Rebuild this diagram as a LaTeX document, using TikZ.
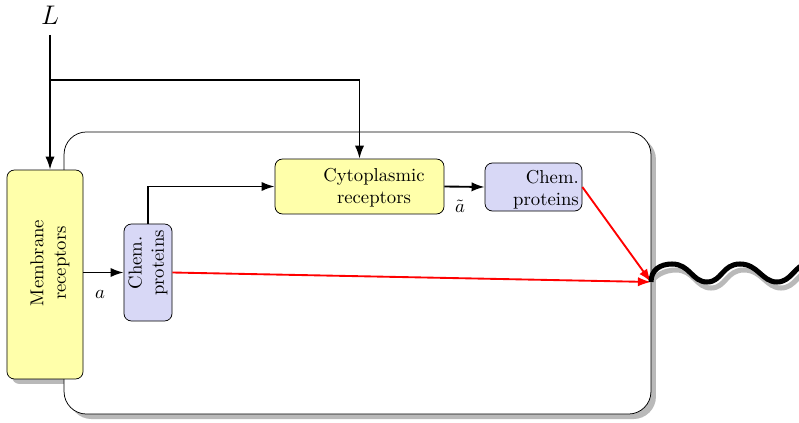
\documentclass[tikz,border=0pt]{standalone}
\usetikzlibrary{arrows.meta}
\definecolor{boxyellow}{RGB}{255,255,170}
\definecolor{boxblue}{RGB}{216,216,246}
\definecolor{shadowgray}{RGB}{185,185,185}
\begin{document}
\begin{tikzpicture}[x=0.535pt,y=-0.535pt,
  conn/.style={line width=1pt,-{Latex[length=7pt,width=5pt]}},
  redconn/.style={line width=1pt,red,-{Latex[length=7pt,width=5pt]}},
  ybox/.style={draw,fill=boxyellow,rounded corners=4pt,inner sep=0pt},
  bbox/.style={draw,fill=boxblue,rounded corners=4pt,inner sep=0pt},
  cellbox/.style={draw,fill=white,rounded corners=12pt,inner sep=0pt},
  shadowbox/.style={fill=shadowgray,rounded corners=4pt,inner sep=0pt},
  wave/.style={line width=2.7pt},
  txt/.style={inner sep=0pt,align=center}]
\useasboundingbox (0,0) rectangle (799,423);
% membrane shadow
\node[shadowbox,minimum width=40.7pt,minimum height=111.8pt] (membshadow) at (50,279.5) {};
% cell shadow and cell
\node[shadowbox,rounded corners=12pt,minimum width=314pt,minimum height=150.9pt] (cellshadow) at (362.5,278) {};
\node[cellbox,minimum width=314pt,minimum height=150.9pt] (cell) at (357.5,273) {};
% boxes
\node[ybox,minimum width=40.7pt,minimum height=111.8pt] (memb) at (45,274.5) {};
\node[txt,rotate=90] (membtext) at (50,263) {Membrane\\receptors};
\node[bbox,minimum width=25.7pt,minimum height=51.9pt] (chema) at (148,272.5) {};
\node[txt,rotate=90] (chematext) at (148,263) {Chem.\\proteins};
\node[ybox,minimum width=90.4pt,minimum height=29.4pt] (cyto) at (359.5,186.5) {};
\node[txt] (cytotext) at (374,188) {Cytoplasmic\\receptors};
\node[bbox,minimum width=51.9pt,minimum height=25.7pt] (chemb) at (533.5,187) {};
\node[txt,align=right] (chembtext) at (546,190) {Chem.\\proteins};
% labels
\node (L) at (50,15) {\Large $L$};
\node (la) at (100,294) {$a$};
\node (lat) at (460,206) {$\tilde a$};
% connectors
\coordinate (ltop) at (50,35);
\coordinate (junc) at (50,80);
\coordinate (w) at (651,282);
\draw[conn] (ltop) -- (ltop |- memb.north);
\draw[conn] (junc) -| (cyto.north);
\draw[conn] (chema.west -| memb.east) -- (chema.west);
\draw[conn] (chema.north) |- (cyto.west);
\draw[conn] (cyto.east) -- (chemb.west);
\draw[redconn] (chema.east) -- (w);
\draw[redconn] (chemb.east) -- (w);
% wave with shadow
\draw[wave,shadowgray,shift={(4,6)}] (w) .. controls (651,270) and (660,264) .. (672,264) .. controls (690,264) and (692,282) .. (707,282) .. controls (722,282) and (722,264) .. (740,264) .. controls (758,264) and (762,282) .. (777,282) .. controls (792,282) and (795,264) .. (808,264);
\draw[wave,black] (w) .. controls (651,270) and (660,264) .. (672,264) .. controls (690,264) and (692,282) .. (707,282) .. controls (722,282) and (722,264) .. (740,264) .. controls (758,264) and (762,282) .. (777,282) .. controls (792,282) and (795,264) .. (808,264);
\end{tikzpicture}
\end{document}
